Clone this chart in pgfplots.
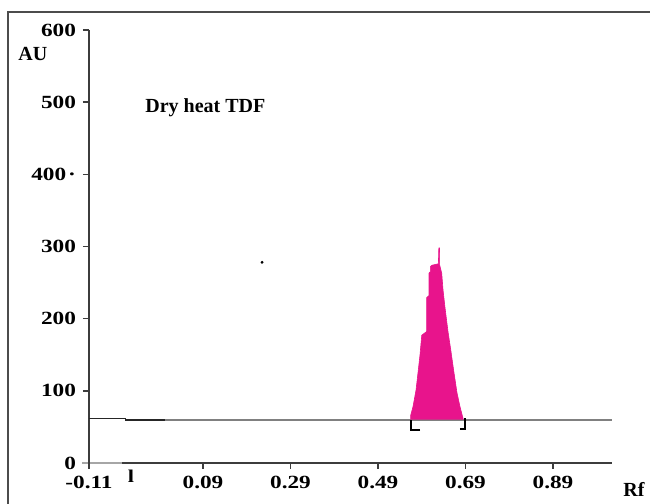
\documentclass[border=0pt]{standalone}
\usepackage{fontspec}
\setmainfont{Liberation Serif}
\newfontfamily\tickfont{Liberation Serif}[FakeStretch=1.25]
\usepackage{pgfplots}
\pgfplotsset{compat=1.18}
\definecolor{peak}{RGB}{232,20,140}
\definecolor{axisgray}{RGB}{60,60,60}

\begin{document}
\begin{tikzpicture}
\begin{axis}[
  x=218.75pt, y=0.36085pt,
  xmin=-0.1706, xmax=1.0249, ymin=0, ymax=600,
  axis x line=bottom, axis y line=left,
  axis line style={-, draw=axisgray, line width=0.75pt},
  tick style={draw=axisgray, line width=0.7pt},
  tick align=outside, major tick length=3pt,
  xtick={-0.1706,0.09,0.29,0.49,0.69,0.89},
  xticklabels={-0.11,0.09,0.29,0.49,0.69,0.89},
  ytick={0,100,200,300,400,500,600},
  yticklabels={0,100,200,300,400\kern1pt·,500,600},
  tick label style={font=\tickfont\bfseries\fontsize{9.3}{10}\selectfont, text=black},
  clip=false,
]
% baseline
\addplot[draw=black!50, line width=0.8pt] coordinates {(-0.1706,61.5)(-0.0872,61.5)(-0.0872,59.5)(1.025,59.5)};
\addplot[draw=black!85, line width=0.8pt] coordinates {(-0.1706,61.5)(-0.0872,61.5)(-0.0872,59.5)(0.003,59.5)};

% peak
\addplot[fill=peak, draw=peak, line width=0.3pt] coordinates {
  (0.5647,60)(0.5647,66)(0.570,78)(0.5769,101)(0.5814,125)(0.586,150)
  (0.590,177)(0.601,182)(0.601,229)(0.6066,232)(0.6066,263)(0.6096,265)
  (0.6096,272)(0.6134,274)(0.628,276)(0.629,298)(0.631,298)(0.631,274)
  (0.6356,263)(0.6386,240)(0.643,216)(0.650,182)(0.6562,157)(0.6637,125)
  (0.6706,97)(0.6774,78)(0.6843,62)(0.6843,60)
};

% integration brackets
\addplot[black, line width=0.8pt] coordinates {(0.586,45.7)(0.565,45.7)(0.565,60)};
\addplot[black, line width=0.8pt] coordinates {(0.677,47)(0.689,47)(0.689,62)};

% stray point
\addplot[only marks, mark=*, mark size=0.5pt, black] coordinates {(0.225,278)};

% lighter start of the x axis
\draw[black!35, line width=0.9pt] (axis cs:-0.1866,0) -- (axis cs:-0.0951,0);
\draw[axisgray, line width=0.75pt] (axis cs:-0.1706,8) -- (axis cs:-0.1706,-7);

\node[anchor=base west, inner sep=0, font=\bfseries\fontsize{10}{12}\selectfont] at (axis cs:-0.0426,486) {Dry heat TDF};
\node[anchor=base west, inner sep=0, font=\bfseries\fontsize{10}{12}\selectfont] at (axis cs:-0.3329,557) {AU};
\node[anchor=base west, inner sep=0, font=\bfseries\fontsize{10}{12}\selectfont] at (axis cs:1.05,-47) {Rf};
\node[anchor=base, inner sep=0, font=\tickfont\bfseries\fontsize{9}{10}\selectfont] at (axis cs:-0.0746,-27) {l};

\coordinate (bl) at (axis cs:-0.374,-56.8);
\coordinate (tr) at (axis cs:1.1117,641.5);
\draw[draw=black!70, line width=0.75pt] (axis cs:-0.3557,-75) -- (axis cs:-0.3557,624.9) -- (axis cs:1.14,624.9);
\end{axis}
\pgfresetboundingbox
\path[use as bounding box] (bl) rectangle (tr);
\end{tikzpicture}
\end{document}
